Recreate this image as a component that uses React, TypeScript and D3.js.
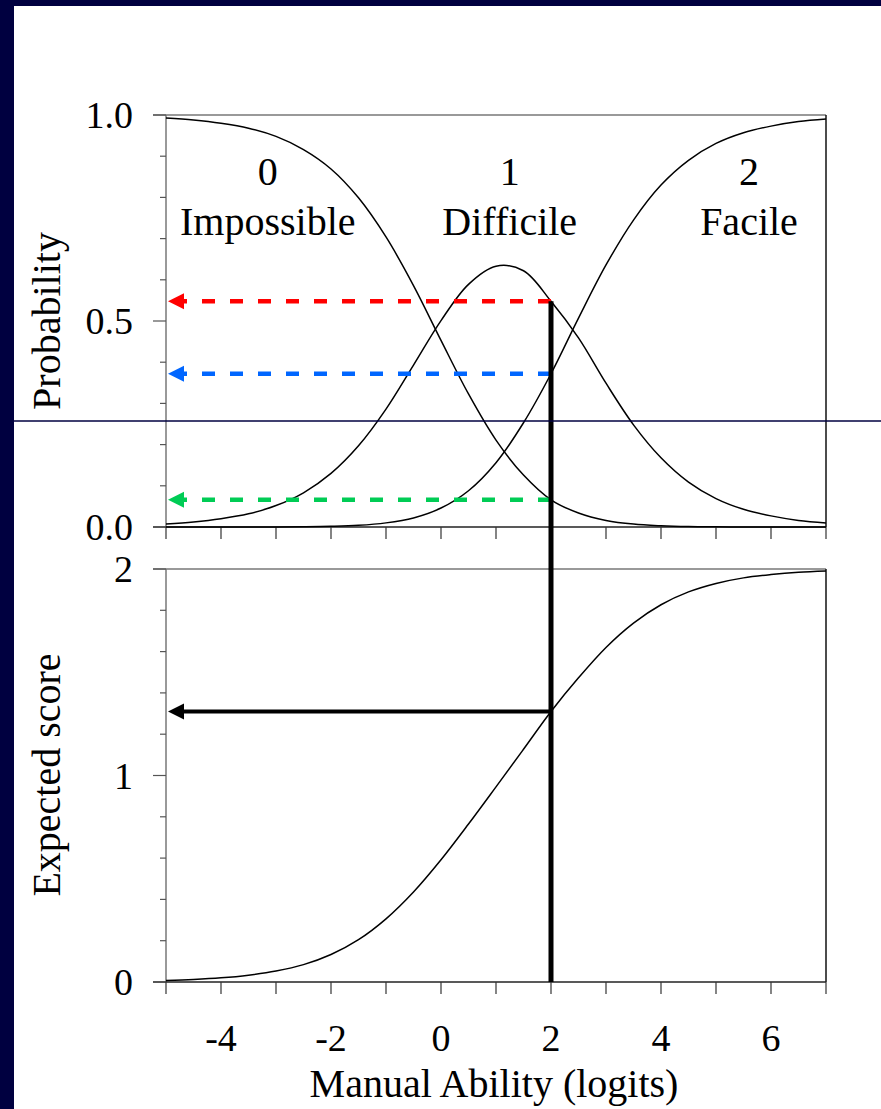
import React from 'react';
import * as d3 from 'd3';

// ability grid (logits) and curve values
const abilities = [-5, -4.5, -4, -3.5, -3, -2.5, -2, -1.5, -1, -0.5, 0, 0.5, 1, 1.5, 2, 2.5, 3, 3.5, 4, 4.5, 5, 5.5, 6, 6.5, 7];
const pImpossible = [0.993, 0.988, 0.980, 0.968, 0.948, 0.916, 0.869, 0.799, 0.704, 0.586, 0.453, 0.323, 0.211, 0.126, 0.066, 0.034, 0.016, 0.007, 0.003, 0.001, 0.0004, 0.0002, 0.0001, 0, 0];
const pDifficile = [0.007, 0.012, 0.020, 0.032, 0.052, 0.083, 0.130, 0.197, 0.286, 0.393, 0.501, 0.589, 0.633, 0.622, 0.548, 0.459, 0.349, 0.248, 0.168, 0.109, 0.069, 0.043, 0.027, 0.016, 0.010];
const pFacile = [0, 0, 0, 0, 0.0002, 0.0006, 0.0016, 0.004, 0.010, 0.022, 0.046, 0.088, 0.156, 0.253, 0.372, 0.507, 0.636, 0.745, 0.830, 0.890, 0.931, 0.957, 0.973, 0.984, 0.990];
const expectedScore = [0.007, 0.012, 0.020, 0.033, 0.053, 0.084, 0.133, 0.205, 0.306, 0.436, 0.592, 0.765, 0.945, 1.127, 1.310, 1.473, 1.620, 1.738, 1.827, 1.889, 1.930, 1.957, 1.973, 1.984, 1.990];

const categories = ['0', '1', '2'];
const categoryNames = ['Impossible', 'Difficile', 'Facile'];
const categoryAbility = [-3.15, 1.25, 5.6];

const cutAbility = 2;
const cutIndex = abilities.indexOf(cutAbility);

const xTickLabels = [-4, -2, 0, 2, 4, 6];
const probTickLabels = ['0.0', '0.5', '1.0'];
const probTickValues = [0, 0.5, 1];
const scoreTickLabels = ['0', '1', '2'];
const scoreTickValues = [0, 1, 2];

const NAVY = '#000040';
const FONT = '"Liberation Serif", "Times New Roman", serif';

const x = d3.scaleLinear().domain([-5, 7]).range([166, 826]);
const yP = d3.scaleLinear().domain([0, 1]).range([527, 115]);
const yE = d3.scaleLinear().domain([0, 2]).range([982, 569]);

const Arrow: React.FC<{ y: number; x0: number; x1: number; color: string; width: number; dashed?: boolean }> = ({ y, x0, x1, color, width, dashed }) => (
  <g>
    <line x1={x0} x2={x1 + 14} y1={y} y2={y} stroke={color} strokeWidth={width}
      strokeDasharray={dashed ? '13 15' : undefined} />
    <path d={`M${x1},${y} L${x1 + 16},${y - 8} L${x1 + 16},${y + 8} Z`} fill={color} />
  </g>
);

const App: React.FC = () => {
  const lineP = (vals: number[]) =>
    d3.line<number>()
      .x((_, i) => x(abilities[i]))
      .y((d) => yP(d))
      .curve(d3.curveCatmullRom.alpha(0.5))(vals) || '';
  const lineE = d3.line<number>()
    .x((_, i) => x(abilities[i]))
    .y((d) => yE(d))
    .curve(d3.curveCatmullRom.alpha(0.5))(expectedScore) || '';

  const xc = x(cutAbility);
  const arrowTip = x(-5) + 2;

  const probMinor = d3.range(0, 1.0001, 0.1);
  const scoreMinor = d3.range(0, 2.0001, 0.2);
  const xMinor = d3.range(-5, 7.0001, 1);

  return (
    <div style={{ position: 'absolute', left: 0, top: 0 }}>
      <svg width={881} height={1109} style={{ display: 'block', fontFamily: FONT }}>
        <rect x={0} y={0} width={881} height={1109} fill="#fff" />
        <rect x={0} y={0} width={881} height={6} fill={NAVY} />
        <rect x={0} y={0} width={14} height={1109} fill={NAVY} />

        {/* top panel frame */}
        <line x1={153} x2={826} y1={yP(1)} y2={yP(1)} stroke="#777" strokeWidth={1.5} />
        <line x1={826} x2={826} y1={yP(1)} y2={yP(0)} stroke="#111" strokeWidth={1.5} />
        <line x1={x(-5)} x2={x(-5)} y1={yP(1)} y2={yP(0)} stroke="#777" strokeWidth={1.5} />
        <line x1={153} x2={826} y1={yP(0)} y2={yP(0)} stroke="#222" strokeWidth={1.5} />
        {probMinor.map((v) => {
          const major = probTickValues.some((m) => Math.abs(m - v) < 1e-6);
          return <line key={`pt${v}`} x1={x(-5) - (major ? 13 : 6)} x2={x(-5)} y1={yP(v)} y2={yP(v)} stroke="#555" strokeWidth={1.2} />;
        })}
        {probTickValues.map((v, i) => (
          <text key={`pl${v}`} x={133} y={yP(v)} dy="0.35em" textAnchor="end" fontSize={38}>{probTickLabels[i]}</text>
        ))}
        {xMinor.map((v) => (
          <line key={`xt1${v}`} x1={x(v)} x2={x(v)} y1={yP(0)} y2={yP(0) + 12} stroke="#333" strokeWidth={1.2} />
        ))}

        {/* bottom panel frame */}
        <line x1={153} x2={826} y1={yE(2)} y2={yE(2)} stroke="#777" strokeWidth={1.5} />
        <line x1={826} x2={826} y1={yE(2)} y2={yE(0)} stroke="#111" strokeWidth={1.5} />
        <line x1={x(-5)} x2={x(-5)} y1={yE(2)} y2={yE(0)} stroke="#777" strokeWidth={1.5} />
        <line x1={153} x2={826} y1={yE(0)} y2={yE(0)} stroke="#222" strokeWidth={1.5} />
        {scoreMinor.map((v) => {
          const major = scoreTickValues.some((m) => Math.abs(m - v) < 1e-6);
          return <line key={`st${v}`} x1={x(-5) - (major ? 13 : 6)} x2={x(-5)} y1={yE(v)} y2={yE(v)} stroke="#555" strokeWidth={1.2} />;
        })}
        {scoreTickValues.map((v, i) => (
          <text key={`sl${v}`} x={133} y={yE(v)} dy="0.35em" textAnchor="end" fontSize={38}>{scoreTickLabels[i]}</text>
        ))}
        {xMinor.map((v) => (
          <line key={`xt2${v}`} x1={x(v)} x2={x(v)} y1={yE(0)} y2={yE(0) + 12} stroke="#333" strokeWidth={1.2} />
        ))}
        {xTickLabels.map((v) => (
          <text key={`xl${v}`} x={x(v)} y={1051} textAnchor="middle" fontSize={38}>{v}</text>
        ))}

        {/* axis titles */}
        <text transform={`translate(60,321) rotate(-90)`} textAnchor="middle" fontSize={40}>Probability</text>
        <text transform={`translate(60,775) rotate(-90)`} textAnchor="middle" fontSize={40}>Expected score</text>
        <text x={494} y={1097} textAnchor="middle" fontSize={40}>Manual Ability (logits)</text>

        {/* category labels */}
        {categories.map((c, i) => (
          <g key={`cat${c}`}>
            <text x={x(categoryAbility[i])} y={185} textAnchor="middle" fontSize={40}>{c}</text>
            <text x={x(categoryAbility[i])} y={235} textAnchor="middle" fontSize={40}>{categoryNames[i]}</text>
          </g>
        ))}

        {/* curves */}
        {[pImpossible, pDifficile, pFacile].map((vals, i) => (
          <path key={`c${i}`} d={lineP(vals)} fill="none" stroke="#000" strokeWidth={1.5} />
        ))}
        <path d={lineE} fill="none" stroke="#000" strokeWidth={1.5} />

        {/* reading arrows */}
        <Arrow y={yP(pDifficile[cutIndex])} x0={xc} x1={arrowTip} color="#ff0000" width={4.5} dashed />
        <Arrow y={yP(pFacile[cutIndex])} x0={xc} x1={arrowTip} color="#0066ff" width={4.5} dashed />
        <Arrow y={yP(pImpossible[cutIndex])} x0={xc} x1={arrowTip} color="#00cc55" width={4.5} dashed />
        <Arrow y={yE(expectedScore[cutIndex])} x0={xc} x1={arrowTip} color="#000" width={4} />
        <line x1={xc} x2={xc} y1={yP(pDifficile[cutIndex])} y2={yE(0)} stroke="#000" strokeWidth={5} />

        <line x1={14} x2={881} y1={421} y2={421} stroke={NAVY} strokeWidth={1.5} />
      </svg>
    </div>
  );
};

export default App;
